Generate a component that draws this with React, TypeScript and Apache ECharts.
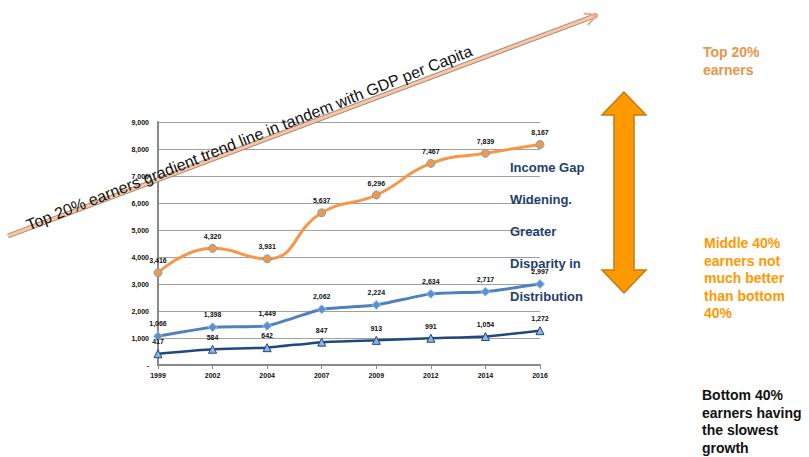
import React, { useEffect, useRef } from "react";
import * as echarts from "echarts";

const years = ["1999", "2002", "2004", "2007", "2009", "2012", "2014", "2016"];
const top20 = [3416, 4320, 3931, 5637, 6296, 7467, 7839, 8167];
const middle40 = [1066, 1398, 1449, 2062, 2224, 2634, 2717, 2997];
const bottom40 = [417, 584, 642, 847, 913, 991, 1054, 1272];
const yTicks = { min: 0, max: 9000, interval: 1000 };
const gapNotes = ["Income Gap", "Widening.", "Greater", "Disparity in", "Distribution"];
const topNote = ["Top 20%", "earners"];
const midNote = ["Middle 40%", "earners not", "much better", "than bottom", "40%"];
const botNote = ["Bottom 40%", "earners having", "the slowest", "growth"];
const trendText = "Top 20% earners gradient trend line in tandem with GDP per Capita";

const fmt = (v: number) => String(Math.round(v)).replace(/\B(?=(\d{3})+(?!\d))/g, ",");

export default function App() {
  const ref = useRef<HTMLDivElement>(null);
  useEffect(() => {
    if (!ref.current) return;
    const chart = echarts.init(ref.current, undefined, { renderer: "svg" });
    const FONT = "Liberation Sans, Arial, sans-serif";
    const label = {
      show: true,
      position: "top",
      distance: 4,
      fontSize: 7,
      fontWeight: "bold",
      color: "#111",
      fontFamily: FONT,
      formatter: (p: any) => fmt(p.value),
    };
    const graphics: any[] = [];
    // diagonal trend arrow
    const x1 = 8, y1 = 236, x2 = 597, y2 = 15;
    graphics.push({ type: "line", shape: { x1, y1, x2, y2 }, style: { stroke: "#a08878", lineWidth: 5 }, z: 10 });
    graphics.push({ type: "line", shape: { x1, y1, x2, y2 }, style: { stroke: "#F9C4A2", lineWidth: 3 }, z: 11 });
    const dx = x2 - x1, dy = y2 - y1, L = Math.hypot(dx, dy);
    const ux = dx / L, uy = dy / L, nx = -uy, ny = ux;
    const bx = x2 - 12 * ux, by = y2 - 12 * uy;
    graphics.push({
      type: "polyline",
      shape: { points: [[bx + 6 * nx, by + 6 * ny], [x2, y2], [bx - 6 * nx, by - 6 * ny]] },
      style: { stroke: "#E9A888", lineWidth: 2, fill: null },
      z: 11,
    });
    graphics.push({
      type: "text",
      x: 30,
      y: 233,
      rotation: (21.5 * Math.PI) / 180,
      style: { text: trendText, font: `16px ${FONT}`, fill: "#111", textAlign: "left", textVerticalAlign: "bottom" },
      z: 12,
    });
    // gap notes
    const gapY = [167, 199, 231, 263, 296];
    gapNotes.forEach((t, i) =>
      graphics.push({
        type: "text",
        x: 510,
        y: gapY[i],
        style: { text: t, font: `bold 13px ${FONT}`, fill: "#1F3F6E", textAlign: "left", textVerticalAlign: "middle" },
        z: 12,
      })
    );
    // double arrow
    const cx = 624, t = 92, b = 293, hw = 22, sw = 10, hl = 23;
    graphics.push({
      type: "polygon",
      shape: {
        points: [
          [cx, t], [cx - hw, t + hl], [cx - sw, t + hl], [cx - sw, b - hl], [cx - hw, b - hl],
          [cx, b], [cx + hw, b - hl], [cx + sw, b - hl], [cx + sw, t + hl], [cx + hw, t + hl],
        ],
      },
      style: { fill: "#FF9900", stroke: "#C27A12", lineWidth: 1.5 },
      z: 12,
    });
    const block = (lines: string[], x: number, y0: number, color: string) =>
      lines.forEach((s, i) =>
        graphics.push({
          type: "text",
          x,
          y: y0 + i * 17.6,
          style: { text: s, font: `bold 14px ${FONT}`, fill: color, textAlign: "left", textVerticalAlign: "middle" },
          z: 12,
        })
      );
    block(topNote, 703, 52, "#E8954B");
    block(midNote, 704, 243, "#FF9900");
    block(botNote, 702, 395, "#111111");

    chart.setOption({
      animation: false,
      grid: { left: 158, right: 269, top: 122, bottom: 92 },
      xAxis: {
        type: "category",
        data: years,
        boundaryGap: false,
        axisLine: { lineStyle: { color: "#8a8a8a", width: 2 } },
        axisTick: { show: true, length: 4, lineStyle: { color: "#8a8a8a" } },
        axisLabel: { fontSize: 7, fontWeight: "bold", color: "#111", fontFamily: FONT, margin: 7 },
        splitLine: { show: false },
      },
      yAxis: {
        type: "value",
        min: yTicks.min,
        max: yTicks.max,
        interval: yTicks.interval,
        axisLine: { show: true, lineStyle: { color: "#8a8a8a", width: 2 } },
        axisTick: { show: false },
        axisLabel: {
          fontSize: 7,
          fontWeight: "bold",
          color: "#111",
          fontFamily: FONT,
          margin: 9,
          formatter: (v: number) => (v === 0 ? "-" : fmt(v)),
        },
        splitLine: { lineStyle: { color: "#a0a0a0", width: 1 } },
      },
      series: [
        {
          name: "Top 20%",
          type: "line",
          data: top20,
          smooth: true,
          symbol: "circle",
          symbolSize: 8,
          lineStyle: { color: "#F79646", width: 3 },
          itemStyle: { color: "#F79646", borderColor: "#6BA7C8", borderWidth: 1 },
          label,
          z: 3,
        },
        {
          name: "Middle 40%",
          type: "line",
          data: middle40,
          smooth: 0.15,
          symbol: "diamond",
          symbolSize: 9,
          lineStyle: { color: "#4F81BD", width: 3 },
          itemStyle: { color: "#5A8FD0", borderColor: "#9CC3E6", borderWidth: 1 },
          label,
          z: 3,
        },
        {
          name: "Bottom 40%",
          type: "line",
          data: bottom40,
          smooth: 0.15,
          symbol: "triangle",
          symbolSize: 8,
          lineStyle: { color: "#1F497D", width: 2.5 },
          itemStyle: { color: "#8DB4E2", borderColor: "#1F497D", borderWidth: 1 },
          label,
          z: 3,
        },
      ],
      graphic: graphics,
    });
    return () => chart.dispose();
  }, []);
  return (
    <div
      ref={ref}
      style={{ position: "fixed", left: 0, top: 0, width: 809, height: 457, background: "#fff" }}
    />
  );
}
